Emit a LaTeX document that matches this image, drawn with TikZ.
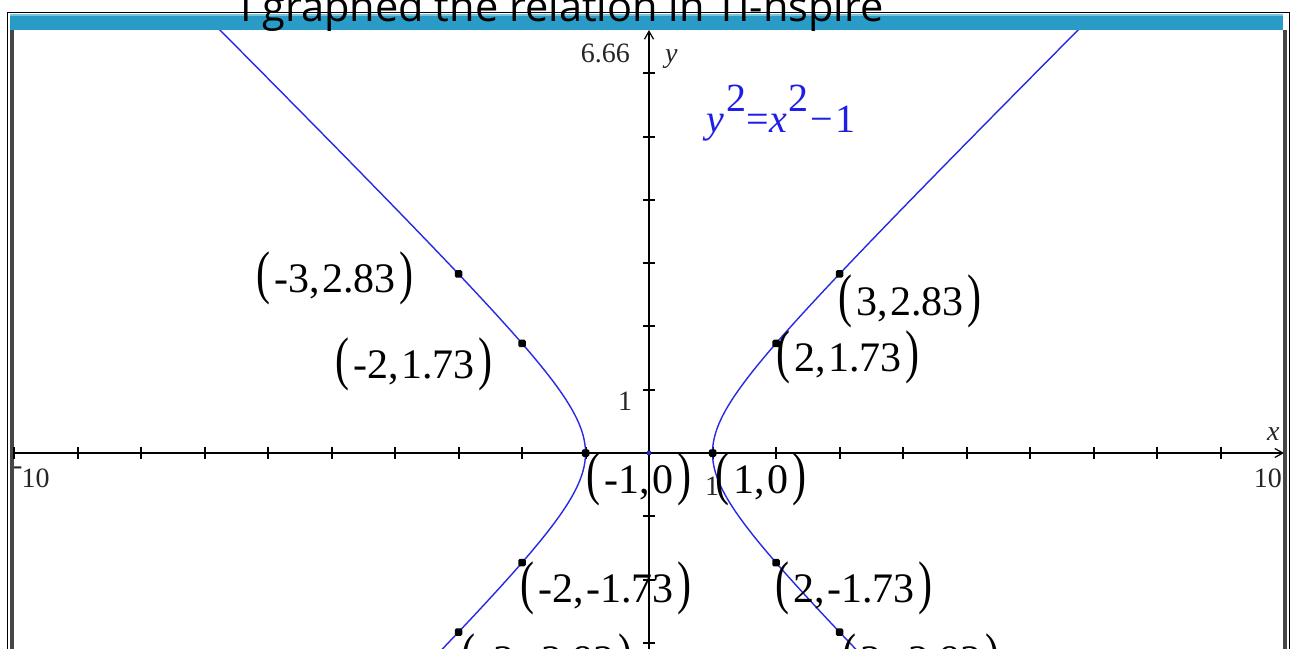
\documentclass[tikz,border=0pt]{standalone}
\usepackage{fontspec}
\setmainfont{Liberation Serif}
\newfontfamily\titlefont{Open Sans}
\usetikzlibrary{arrows.meta}
\definecolor{barblue}{RGB}{42,155,198}
\definecolor{barlight}{RGB}{120,196,224}
\definecolor{curveblue}{RGB}{40,40,230}
\definecolor{eqblue}{RGB}{30,30,230}
\definecolor{framegray}{RGB}{70,70,70}
\newcommand\lpar{\scalebox{1}[1.4]{(}\kern4pt}
\newcommand\rpar{\kern4pt\scalebox{1}[1.4]{)}}
\newcommand\cm{,\kern2.5pt}
\tikzset{
  ptlabel/.style={anchor=base west, inner sep=0pt, font=\fontsize{42}{42}\selectfont},
  axlabel/.style={inner sep=0pt, font=\fontsize{28}{28}\selectfont, text=black!85},
  dot/.style={rectangle, rounded corners=1.5pt, fill=black, inner sep=0pt, minimum size=7.5pt},
  curve/.style={curveblue, line width=1.4pt},
  axis/.style={line width=1.2pt, -{Straight Barb[length=8pt,width=9pt]}},
  tickmark/.style={line width=2pt},
}
\begin{document}
\begin{tikzpicture}[x=1pt,y=-1pt]
\useasboundingbox (0,0) rectangle (1293,648);
\clip (0,0) rectangle (1293,648);
\fill[white] (0,0) rectangle (1293,648);
% frame
\draw[black, line width=1pt] (7.5,12.5) rectangle (1289.5,660);
\fill[barblue] (10,14) rectangle (1283,30);
\fill[barlight] (10,14) rectangle (1283,15.5);
\fill[framegray] (10,30) rectangle (13.5,660);
\fill[framegray] (1283,30) rectangle (1287,660);
% axes
\coordinate (xl) at (13,453);
\coordinate (xr) at (1284,453);
\coordinate (yb) at (649,660);
\coordinate (yt) at (649,30);
\draw[axis] (xl) -- (xr);
\draw[axis] (yb) -- (yt);
\foreach \i in {-10,...,-1,1,2,...,9}
  \draw[tickmark] ({649+63.5*\i},447) -- ({649+63.5*\i},459);
\foreach \j in {-3,-2,-1,1,2,...,6}
  \draw[tickmark] (643,{453-63.3*\j}) -- (655,{453-63.3*\j});
% axis labels
\node[axlabel, anchor=base east] (ymax) at (630,62) {6.66};
\node[axlabel, anchor=base west] (ylab) at (665,62) {\textit{y}};
\node[axlabel, anchor=base] (yone) at (625,410) {1};
\node[axlabel, anchor=base west] (xlab) at (1267,440) {\textit{x}};
\node[axlabel, anchor=base east] (xmax) at (1282,487) {10};
\node[axlabel, anchor=base west] (xmin) at (13,487) {\raisebox{13pt}{-}\kern-1pt10};
\node[axlabel, anchor=base] (xone) at (712,495) {1};
% curve and points
\begin{scope}
\clip (13,30) rectangle (1283,648);
\begin{scope}[shift={(649,453)}, x=63.5pt, y=63.3pt]
  \draw[curve] plot[domain=-2.7:2.7, samples=241, smooth] ({cosh(\x)},{sinh(\x)});
  \draw[curve] plot[domain=-2.7:2.7, samples=241, smooth] ({-cosh(\x)},{sinh(\x)});
  \node[fill=curveblue, inner sep=0pt, minimum size=4pt] (o) at (0,0) {};
  \node[dot] (pA) at (-3,2.83) {};
  \node[dot] (pB) at (-2,1.73) {};
  \node[dot] (pC) at (-1,0) {};
  \node[dot] (pD) at (-2,-1.73) {};
  \node[dot] (pE) at (-3,-2.83) {};
  \node[dot] (pF) at (3,2.83) {};
  \node[dot] (pG) at (2,1.73) {};
  \node[dot] (pH) at (1,0) {};
  \node[dot] (pI) at (2,-1.73) {};
  \node[dot] (pJ) at (3,-2.83) {};
\end{scope}
\end{scope}
% point labels
\node[ptlabel] (lA) at (256,292) {\lpar-3\cm2.83\rpar};
\node[ptlabel] (lB) at (335,378) {\lpar-2\cm1.73\rpar};
\node[ptlabel] (lC) at (586,493) {\lpar-1\cm0\rpar};
\node[ptlabel] (lD) at (520,602) {\lpar-2\cm-1.73\rpar};
\node[ptlabel] (lE) at (461,674) {\lpar-3\cm-2.83\rpar};
\node[ptlabel] (lF) at (838,315) {\lpar3\cm2.83\rpar};
\node[ptlabel] (lG) at (776,371) {\lpar2\cm1.73\rpar};
\node[ptlabel] (lH) at (715,493) {\lpar1\cm0\rpar};
\node[ptlabel] (lI) at (775,602) {\lpar2\cm-1.73\rpar};
\node[ptlabel] (lJ) at (842,674) {\lpar3\cm-2.83\rpar};
% equation
\node[anchor=base west, inner sep=0pt, text=eqblue, font=\fontsize{40}{40}\selectfont] (eq) at (706,132)
  {\textit{y}\kern3pt\raisebox{21pt}{2}=\textit{x}\kern1pt\raisebox{21pt}{2}\kern2pt−\kern3pt1};
% title
\node[anchor=base west, inner sep=0pt, font=\titlefont\fontsize{41.5}{41.5}\selectfont] (title) at (240,21) {I graphed the relation in TI-nspire};
\end{tikzpicture}
\end{document}
